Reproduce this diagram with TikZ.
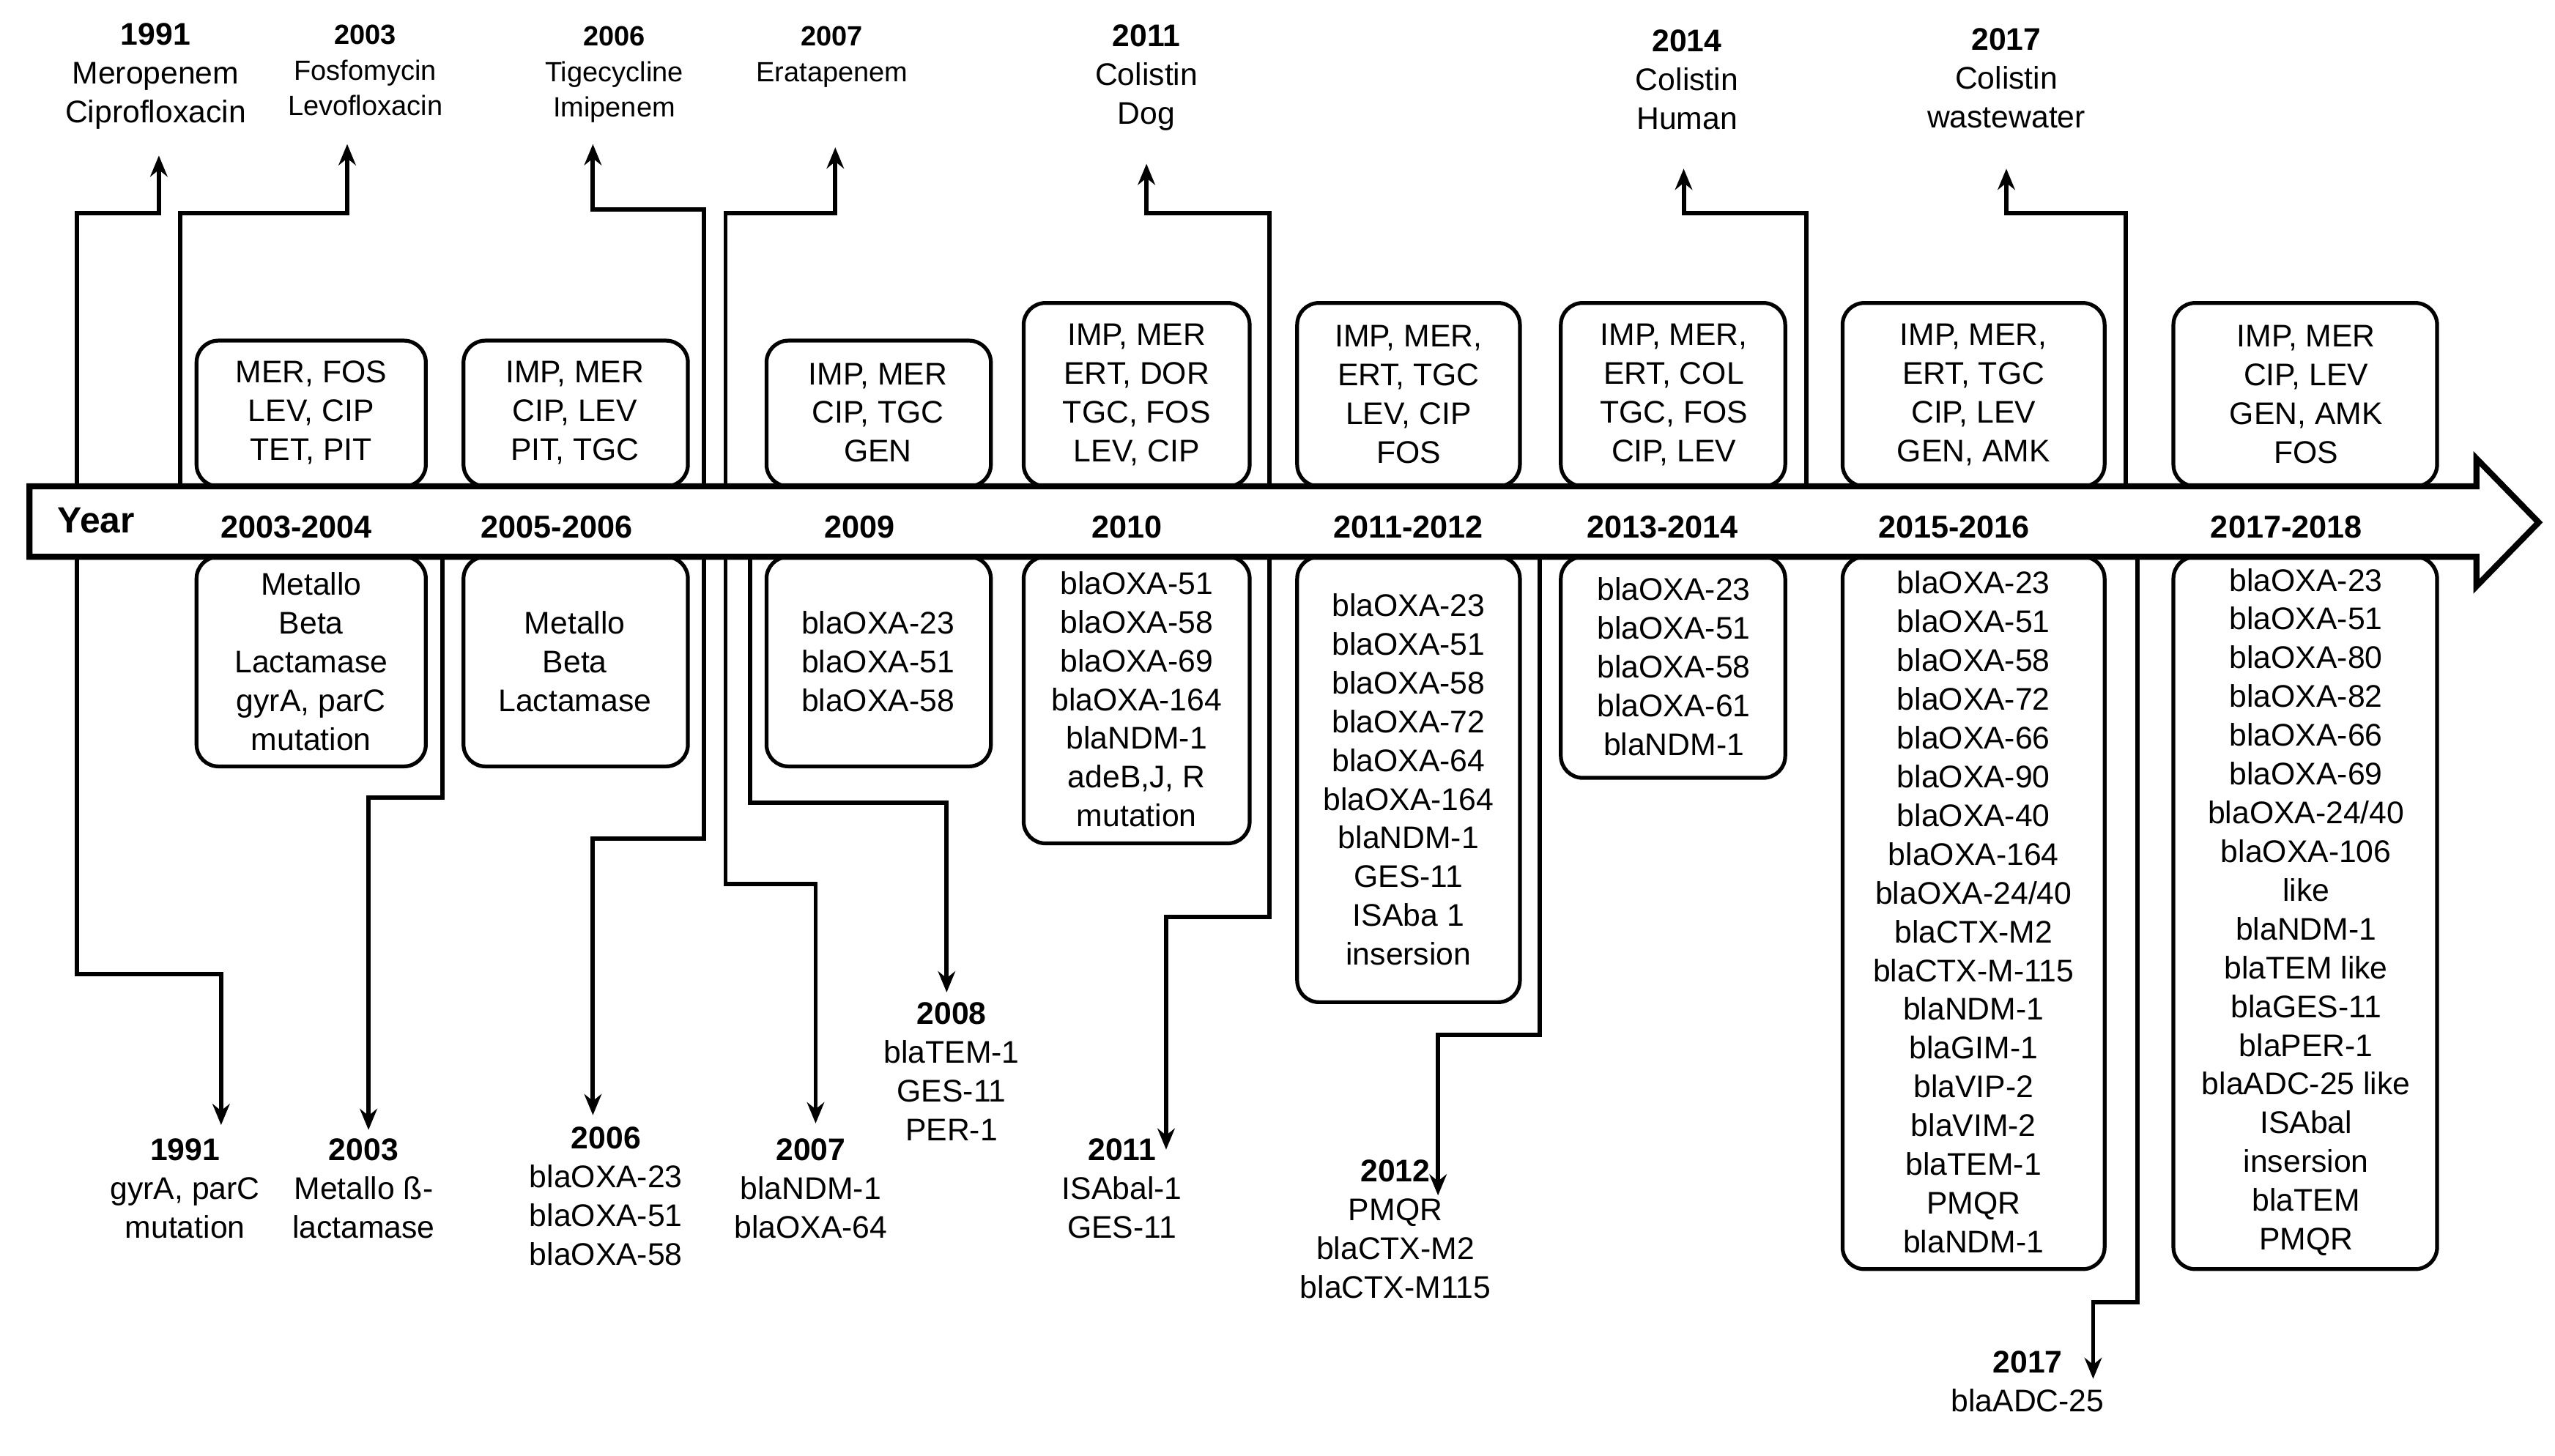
\documentclass[tikz,border=0pt]{standalone}
\usepackage{fontspec}
\setmainfont{Liberation Sans}
\usetikzlibrary{arrows.meta}
\begin{document}
\begin{tikzpicture}[x=0.03cm,y=-0.03cm,
 box/.style={draw,line width=0.07cm,rounded corners=0.4cm},
 txt/.style={align=center,inner sep=0pt,font=\fontsize{16.3}{20.2}\selectfont},
 stxt/.style={align=center,inner sep=0pt,font=\fontsize{14.5}{18.5}\selectfont},
 yr/.style={inner sep=0pt,font=\fontsize{16.5}{20}\selectfont\bfseries},
 con/.style={line width=0.08cm,-{Stealth[length=11pt,width=9pt]}}]
\useasboundingbox (0,0) rectangle (1560,889);
% main arrow
\draw[line width=0.11cm,fill=white,line join=miter] (18,297) -- (1512,297) -- (1512,280) -- (1550,319) -- (1512,358) -- (1512,340) -- (18,340) -- cycle;
\node[inner sep=0pt,font=\fontsize{19}{20}\selectfont\bfseries,anchor=west] (year) at (35,318) {Year};
\foreach \x/\t/\n in {181/2003-2004/a,340/2005-2006/b,525/2009/c,688/2010/d,860/2011-2012/e,1015/2013-2014/f,1193/2015-2016/g,1396/2017-2018/h}
  \node[yr] (y\n) at (\x,322) {\t};
% upper boxes
\draw[box] (120,208) rectangle (260,297); \node[txt] (ua) at (190,252) {MER, FOS\\LEV, CIP\\TET, PIT};
\draw[box] (283,208) rectangle (420,297); \node[txt] (ub) at (351,252) {IMP, MER\\CIP, LEV\\PIT, TGC};
\draw[box] (468,208) rectangle (605,297); \node[txt] (uc) at (536,252) {IMP, MER\\CIP, TGC\\GEN};
\draw[box] (625,185) rectangle (763,297); \node[txt] (ud) at (694,241) {IMP, MER\\ERT, DOR\\TGC, FOS\\LEV, CIP};
\draw[box] (792,185) rectangle (928,297); \node[txt] (ue) at (860,241) {IMP, MER,\\ERT, TGC\\LEV, CIP\\FOS};
\draw[box] (953,185) rectangle (1090,297); \node[txt] (uf) at (1022,241) {IMP, MER,\\ERT, COL\\TGC, FOS\\CIP, LEV};
\draw[box] (1125,185) rectangle (1285,297); \node[txt] (ug) at (1205,241) {IMP, MER,\\ERT, TGC\\CIP, LEV\\GEN, AMK};
\draw[box] (1327,185) rectangle (1488,297); \node[txt] (uh) at (1408,241) {IMP, MER\\CIP, LEV\\GEN, AMK\\FOS};
% lower boxes
\draw[box] (120,340) rectangle (260,468); \node[txt] (la) at (190,404) {Metallo\\Beta\\Lactamase\\gyrA, parC\\mutation};
\draw[box] (283,340) rectangle (420,468); \node[txt] (lb) at (351,404) {Metallo\\Beta\\Lactamase};
\draw[box] (468,340) rectangle (605,468); \node[txt] (lc) at (536,404) {blaOXA-23\\blaOXA-51\\blaOXA-58};
\draw[box] (625,340) rectangle (763,515); \node[txt] (ld) at (694,427) {blaOXA-51\\blaOXA-58\\blaOXA-69\\blaOXA-164\\blaNDM-1\\adeB,J, R\\mutation};
\draw[box] (792,340) rectangle (928,612); \node[txt] (le) at (860,476) {blaOXA-23\\blaOXA-51\\blaOXA-58\\blaOXA-72\\blaOXA-64\\blaOXA-164\\blaNDM-1\\GES-11\\ISAba 1\\insersion};
\draw[box] (953,340) rectangle (1090,475); \node[txt] (lf) at (1022,407) {blaOXA-23\\blaOXA-51\\blaOXA-58\\blaOXA-61\\blaNDM-1};
\draw[box] (1125,340) rectangle (1285,775); \node[txt] (lg) at (1205,557) {blaOXA-23\\blaOXA-51\\blaOXA-58\\blaOXA-72\\blaOXA-66\\blaOXA-90\\blaOXA-40\\blaOXA-164\\blaOXA-24/40\\blaCTX-M2\\blaCTX-M-115\\blaNDM-1\\blaGIM-1\\blaVIP-2\\blaVIM-2\\blaTEM-1\\PMQR\\blaNDM-1};
\draw[box] (1327,340) rectangle (1488,775); \node[txt] (lh) at (1408,557) {blaOXA-23\\blaOXA-51\\blaOXA-80\\blaOXA-82\\blaOXA-66\\blaOXA-69\\blaOXA-24/40\\blaOXA-106\\like\\blaNDM-1\\blaTEM like\\blaGES-11\\blaPER-1\\blaADC-25 like\\ISAbal\\insersion\\blaTEM\\PMQR};
% top labels
\node[txt,anchor=north] (t1991) at (95,14) {\textbf{1991}\\Meropenem\\Ciprofloxacin};
\node[stxt,anchor=north] (t2003) at (223,15) {\textbf{2003}\\Fosfomycin\\Levofloxacin};
\node[stxt,anchor=north] (t2006) at (375,16) {\textbf{2006}\\Tigecycline\\Imipenem};
\node[stxt,anchor=north] (t2007) at (508,16) {\textbf{2007}\\Eratapenem};
\node[txt,anchor=north] (t2011) at (700,15) {\textbf{2011}\\Colistin\\Dog};
\node[txt,anchor=north] (t2014) at (1030,18) {\textbf{2014}\\Colistin\\Human};
\node[txt,anchor=north] (t2017) at (1225,17) {\textbf{2017}\\Colistin\\wastewater};
% bottom labels
\node[txt,anchor=north] (b1991) at (113,695) {\textbf{1991}\\gyrA, parC\\mutation};
\node[txt,anchor=north] (b2003) at (222,695) {\textbf{2003}\\Metallo ß-\\lactamase};
\node[txt,anchor=north] (b2006) at (370,688) {\textbf{2006}\\blaOXA-23\\blaOXA-51\\blaOXA-58};
\node[txt,anchor=north] (b2007) at (495,695) {\textbf{2007}\\blaNDM-1\\blaOXA-64};
\node[txt,anchor=north] (b2008) at (581,612) {\textbf{2008}\\blaTEM-1\\GES-11\\PER-1};
\node[txt,anchor=north] (b2011) at (685,695) {\textbf{2011}\\ISAbal-1\\GES-11};
\node[txt,anchor=north] (b2012) at (852,708) {\textbf{2012}\\PMQR\\blaCTX-M2\\blaCTX-M115};
\node[txt,anchor=north] (b2017) at (1238,825) {\textbf{2017}\\blaADC-25};
% connector end points
\foreach \n/\x/\y in {e1/97/95,e2/212/88,e3/362/88,e4/510/90,e5/700/100,e6/1028/103,e7/1225/103,
  f1/135/687,f2/225/690,f3/362/681,f4/498/686,f5/578/606,f6/712/702,f7/878/730,f8/1278/842}
  \coordinate (\n) at (\x,\y);
% upper connectors
\draw[con] (47,297) |- (97,130) -- (e1);
\draw[con] (110,297) |- (212,130) -- (e2);
\draw[con] (430,297) |- (362,128) -- (e3);
\draw[con] (443,297) |- (510,130) -- (e4);
\draw[con] (775,297) |- (700,130) -- (e5);
\draw[con] (1103,297) |- (1028,130) -- (e6);
\draw[con] (1298,297) |- (1225,130) -- (e7);
% lower connectors
\draw[con] (47,340) |- (135,595) -- (f1);
\draw[con] (270,340) |- (225,487) -- (f2);
\draw[con] (430,340) |- (362,512) -- (f3);
\draw[con] (443,340) |- (498,540) -- (f4);
\draw[con] (458,340) |- (578,490) -- (f5);
\draw[con] (775,340) |- (712,560) -- (f6);
\draw[con] (940,340) |- (878,632) -- (f7);
\draw[con] (1305,340) |- (1278,795) -- (f8);
\end{tikzpicture}
\end{document}
